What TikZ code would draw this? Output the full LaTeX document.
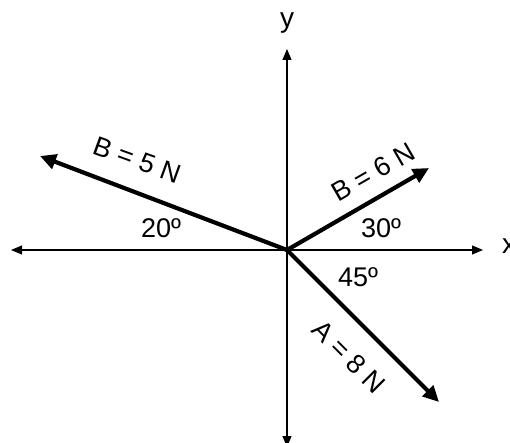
\documentclass[tikz,border=0pt]{standalone}
\usepackage{fontspec}
\setmainfont{Liberation Sans}
\usetikzlibrary{arrows.meta}
\begin{document}
\begin{tikzpicture}[x=1pt,y=-1pt,
  axis/.style={line width=1.2pt,-{Triangle[length=11pt,width=9pt]}},
  force/.style={line width=4.2pt,-{Triangle[length=16pt,width=15pt]}},
  lbl/.style={font=\fontsize{27}{30}\selectfont,inner sep=0pt},
  axlbl/.style={font=\fontsize{28}{32}\selectfont,inner sep=0pt}]
\useasboundingbox (0,0) rectangle (510,443);
\fill[white] (0,0) rectangle (510,443);
\coordinate (O) at (287,250);
\coordinate (xl) at (11,250);
\coordinate (xr) at (483,250);
\coordinate (yt) at (287,49);
\coordinate (yb) at (287,447);
\coordinate (b5) at (40,156);
\coordinate (b6) at (429,168);
\coordinate (a8) at (439,402);
% axes
\draw[axis] (O) -- (xl);
\draw[axis] (O) -- (xr);
\draw[axis] (O) -- (yt);
\draw[axis] (O) -- (yb);
\node[axlbl] (ylab) at (287,23) {y};
\node[axlbl] (xlab) at (509,246) {x};
% forces
\draw[force] (O) -- (b5);
\draw[force] (O) -- (b6);
\draw[force] (O) -- (a8);
\node[lbl,rotate=-20] (lb5) at (137,160) {B = 5 N};
\node[lbl,rotate=30] (lb6) at (373,172) {B = 6 N};
\node[lbl,rotate=-45] (la8) at (349,357) {A = 8 N};
\node[lbl] (t20) at (161,228) {20º};
\node[lbl] (t30) at (381,228) {30º};
\node[lbl] (t45) at (358,277) {45º};
\end{tikzpicture}
\end{document}
